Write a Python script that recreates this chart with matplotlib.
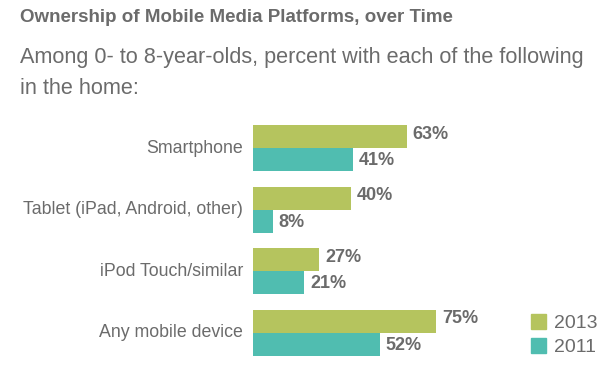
import numpy as np
import matplotlib.pyplot as plt
from matplotlib.patches import Patch

plt.rcParams['font.family'] = ['Liberation Sans', 'DejaVu Sans']

# data
categories = ["Smartphone", "Tablet (iPad, Android, other)",
              "iPod Touch/similar", "Any mobile device"]
vals_2013 = [63, 40, 27, 75]
vals_2011 = [41, 8, 21, 52]
years = ["2013", "2011"]

green = "#b5c45e"
teal = "#50bdb0"
grey = "#6b6b6b"

W, H = 610, 380
fig = plt.figure(figsize=(W / 100, H / 100), dpi=100)

fig.text(20 / W, 1 - 18 / H, "Ownership of Mobile Media Platforms, over Time",
         fontsize=13.5, fontweight="bold", color=grey, va="center", ha="left")
fig.text(20 / W, 1 - 57 / H,
         "Among 0- to 8-year-olds, percent with each of the following",
         fontsize=15.6, color=grey, va="center", ha="left")
fig.text(20 / W, 1 - 88 / H, "in the home:",
         fontsize=15.6, color=grey, va="center", ha="left")

# axes placement in pixels
x0, px_per_unit = 253, 2.44
step = 61.6
top_px = 148 - 0.6 * step
bot_px = 148 + 3.6 * step
ax = fig.add_axes([x0 / W, 1 - bot_px / H, 100 * px_per_unit / W, (bot_px - top_px) / H])
ax.set_xlim(0, 100)
ax.set_ylim(3.6, -0.6)
ax.axis("off")

y = np.arange(len(categories))
h = 23 / step
ax.barh(y - h / 2, vals_2013, height=h, color=green)
ax.barh(y + h / 2, vals_2011, height=h, color=teal)

off = 6 / px_per_unit
for yi, v in zip(y, vals_2013):
    ax.text(v + off, yi - h / 2 - 0.04, f"{v}%", fontsize=13, fontweight="bold",
            color=grey, va="center", ha="left")
for yi, v in zip(y, vals_2011):
    ax.text(v + off, yi + h / 2 + 0.02, f"{v}%", fontsize=13, fontweight="bold",
            color=grey, va="center", ha="left")
for yi, c in zip(y, categories):
    ax.text(-10 / px_per_unit, yi, c, fontsize=12.8, color=grey,
            va="center", ha="right")

handles = [Patch(color=green), Patch(color=teal)]
leg = fig.legend(handles, years, loc="center left",
                 bbox_to_anchor=(521 / W, 1 - 335 / H), frameon=False,
                 fontsize=14, handlelength=0.8, handleheight=0.8,
                 handletextpad=0.4, labelspacing=0.3, borderpad=0)
for t in leg.get_texts():
    t.set_color(grey)

fig.savefig("out.png", dpi=100)
